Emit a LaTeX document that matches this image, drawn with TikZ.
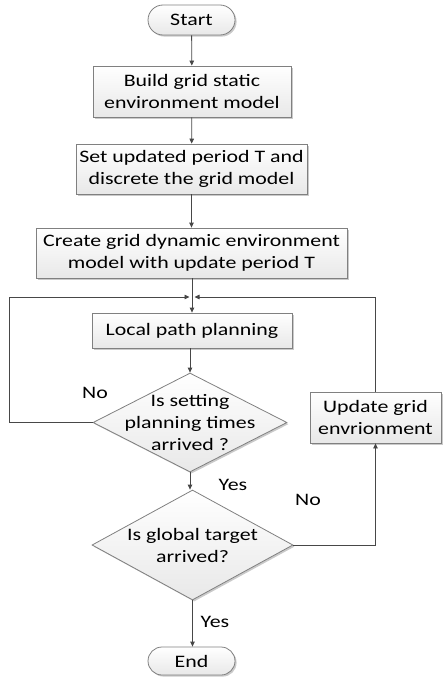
\documentclass[tikz,border=0pt]{standalone}
\usepackage{fontspec}
\setmainfont{Carlito}[FakeStretch=1.25]
\usetikzlibrary{shapes.geometric,shapes.misc,shadows,arrows.meta}
\tikzset{
  base/.style={draw=black!50, line width=0.8pt, top color=white, bottom color=black!9,
    drop shadow={shadow xshift=1.6pt, shadow yshift=-1.6pt, opacity=0.35, fill=black!60},
    inner sep=0pt, font=\fontsize{17.5}{22}\selectfont, text=black, align=center},
  procbox/.style={base, rectangle},
  termbox/.style={base, rounded rectangle},
  decision/.style={base, diamond},
  conn/.style={draw=black!72, line width=0.8pt, -{Triangle[length=5pt,width=4.5pt]}},
  lbl/.style={font=\fontsize{17.5}{22}\selectfont, text=black, inner sep=0pt}
}
\begin{document}
\begin{tikzpicture}[x=1pt,y=-1pt]
\useasboundingbox (0,0) rectangle (444,677);

% main column
\node[termbox, minimum width=87pt, minimum height=30pt] (start) at (191.5,20) {Start};
\node[procbox, minimum width=198pt, minimum height=51pt] (b1) at (192,91.5) {Build grid static\\environment model};
\node[procbox, minimum width=231pt, minimum height=50pt] (b2) at (191.5,169) {Set updated period T and\\discrete the grid model};
\node[procbox, minimum width=311pt, minimum height=50pt] (b3) at (191.5,253) {Create grid dynamic environment\\model with update period T};
\node[procbox, minimum width=200pt, minimum height=35pt] (lp) at (192,330.5) {Local path planning};
\node[decision, minimum width=194pt, minimum height=99pt,
  label={[lbl, align=center]center:Is setting\\planning times\\arrived ?}] (d1) at (190,422.5) {};
\node[decision, minimum width=201pt, minimum height=110pt,
  label={[lbl, align=center]center:Is global target\\arrived?}] (d2) at (192.5,545) {};
\node[termbox, minimum width=87pt, minimum height=28pt] (end) at (191.5,661) {End};

% side box
\node[procbox, minimum width=131pt, minimum height=51pt] (upd) at (375.5,417.5) {Update grid\\envrionment};

% loop junction above local planning
\coordinate (jl) at (189.5,297);
\coordinate (jr) at (194.5,297);
\coordinate (lx) at (9,297);

% connectors
\draw[conn] (start) -- (b1);
\draw[conn] (b1) -- (b2);
\draw[conn] (b2) -- (b3);
\draw[conn] (b3.south -| lp.north) -- (lp.north);
\draw[conn] (d1.west) -| (lx) -- (jl);
\draw[conn] (upd.north) |- (jr);
\draw[conn] (lp.south -| d1.north) -- (d1.north);
\draw[conn] (d1.south) -- (d1.south |- d2.north);
\draw[conn] (d2.east) -| (upd.south);
\draw[conn] (d2.south) -- (d2.south |- end.north);

% branch labels
\node[lbl] (no1) at (95,393) {No};
\node[lbl] (yes1) at (233,485) {Yes};
\node[lbl] (no2) at (308,500) {No};
\node[lbl] (yes2) at (215,622) {Yes};
\end{tikzpicture}
\end{document}
